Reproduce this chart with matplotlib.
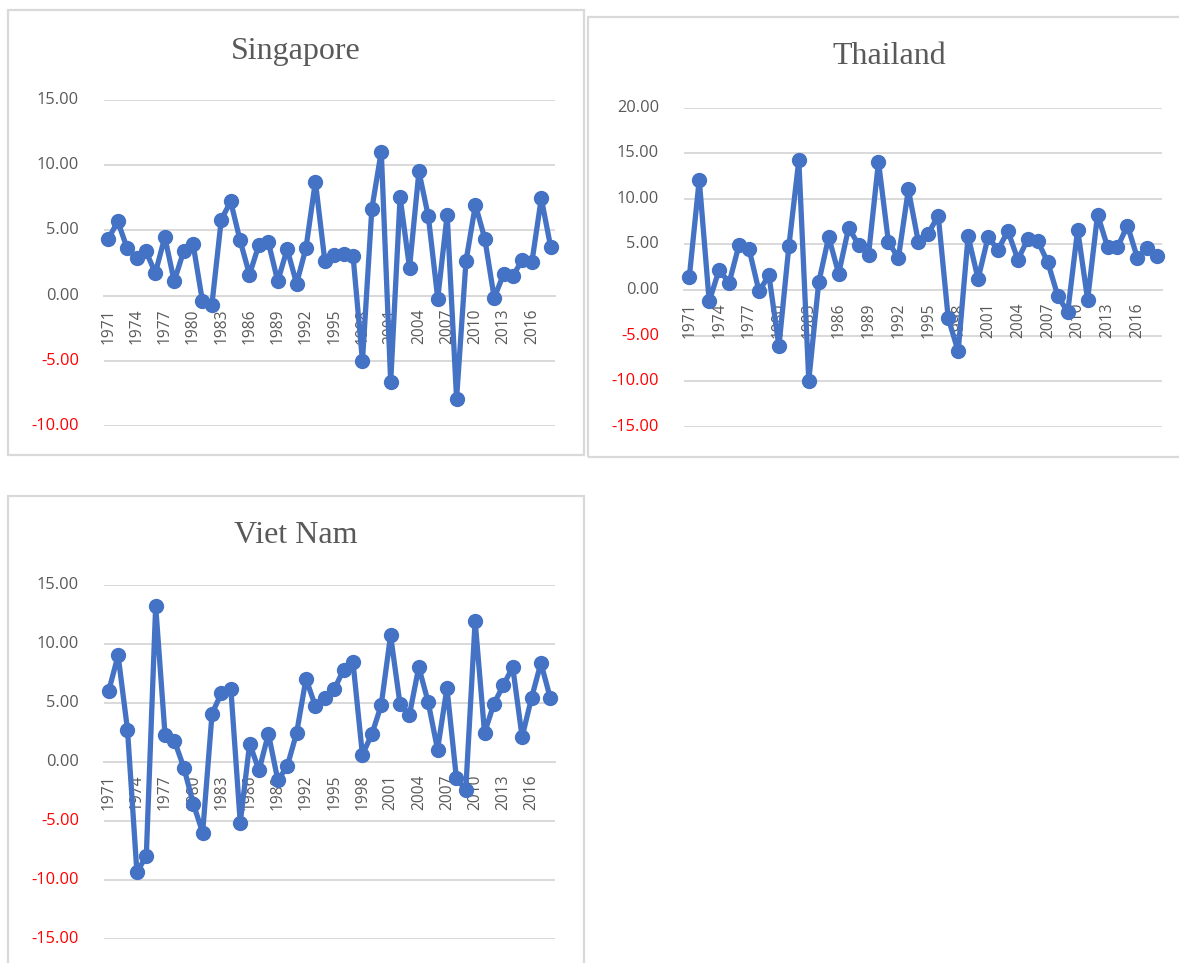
import matplotlib
matplotlib.use("Agg")
import matplotlib.pyplot as plt
from matplotlib.patches import Rectangle

years = list(range(1971, 2019))

singapore = [4.34, 5.69, 3.65, 2.88, 3.39, 1.73, 4.49, 1.10, 3.39, 3.98,
             -0.43, -0.74, 5.82, 7.22, 4.23, 1.61, 3.90, 4.11, 1.10, 3.57,
             0.92, 3.65, 8.75, 2.68, 3.14, 3.21, 3.06, -5.03, 6.66, 11.05,
             -6.63, 7.55, 2.12, 9.52, 6.07, -0.23, 6.20, -7.91, 2.63, 6.96,
             4.36, -0.18, 1.66, 1.53, 2.76, 2.55, 7.47, 3.72]

thailand = [1.39, 12.12, -1.25, 2.23, 0.77, 4.98, 4.51, -0.15, 1.61, -6.19,
            4.80, 14.25, -9.96, 0.84, 5.82, 1.79, 6.81, 4.98, 3.88, 14.07,
            5.24, 3.52, 11.03, 5.27, 6.19, 8.17, -3.08, -6.74, 5.90, 1.21,
            5.79, 4.43, 6.45, 3.33, 5.60, 5.35, 3.04, -0.62, -2.45, 6.63,
            -1.06, 8.28, 4.73, 4.69, 7.07, 3.52, 4.62, 3.77]

vietnam = [6.02, 9.04, 2.74, -9.32, -7.99, 13.22, 2.26, 1.78, -0.48, -3.53,
           -5.99, 4.10, 5.85, 6.21, -5.14, 1.55, -0.71, 2.40, -1.55, -0.37,
           2.46, 7.06, 4.72, 5.42, 6.16, 7.82, 8.47, 0.62, 2.34, 4.80,
           10.73, 4.94, 3.95, 8.05, 5.08, 1.05, 6.27, -1.33, -2.40, 11.95,
           2.46, 4.94, 6.50, 8.05, 2.12, 5.42, 8.39, 5.42]

titles = ["Singapore", "Thailand", "Viet Nam"]
series = [singapore, thailand, vietnam]
yticks_list = [[-10, -5, 0, 5, 10, 15],
               [-15, -10, -5, 0, 5, 10, 15, 20],
               [-15, -10, -5, 0, 5, 10, 15]]

W, H = 1179, 963
fig = plt.figure(figsize=(W / 100, H / 100), dpi=100)
fig.patch.set_facecolor("white")

# panel frames (pixels: x0, y0_top, x1, y1_bottom)
frames = [(8, 10, 584, 455), (588, 17, 1190, 457), (8, 496, 584, 975)]
# plot areas
plots = [(103.6, 100, 555.4, 426), (684.3, 107.7, 1162.3, 426.7), (104, 585, 555, 939)]
title_pos = [(296, 51), (889, 57), (296, 535)]
ylabel_x = [79, 659, 79]

def fx(x):
    return x / W

def fy(y):
    return 1 - y / H

for (x0, y0, x1, y1) in frames:
    fig.patches.append(Rectangle((fx(x0), fy(y1)), fx(x1 - x0), (y1 - y0) / H,
                                 transform=fig.transFigure, fill=False,
                                 edgecolor="#D9D9D9", linewidth=1.6, zorder=0))

line_color = "#4472C4"
gray = "#595959"
n = len(years)
xs = list(range(n))

for i in range(3):
    x0, y0, x1, y1 = plots[i]
    ax = fig.add_axes([fx(x0), fy(y1), fx(x1 - x0), (y1 - y0) / H])
    ax.set_facecolor("none")
    yt = yticks_list[i]
    ax.set_xlim(-0.5, n - 0.5)
    ax.set_ylim(yt[0], yt[-1])
    for v in yt:
        ax.axhline(v, color="#D9D9D9", linewidth=1.4, zorder=1)
    ax.plot(xs, series[i], color=line_color, linewidth=3.8, marker="o",
            markersize=10, markerfacecolor=line_color, markeredgecolor=line_color,
            zorder=3, clip_on=False, solid_joinstyle="round")
    for s in ["top", "right", "left"]:
        ax.spines[s].set_visible(False)
    ax.spines["bottom"].set_position(("data", 0))
    ax.spines["bottom"].set_color("#D9D9D9")
    ax.spines["bottom"].set_linewidth(1.4)
    ax.spines["bottom"].set_zorder(1)
    ax.set_xticks(xs[::3])
    ax.set_xticklabels([str(y) for y in years[::3]], rotation=90,
                       fontsize=11.2, color=gray, family="Open Sans")
    ax.tick_params(axis="x", length=0, pad=9)
    ax.set_yticks([])
    for v in yt:
        fig.text(fx(ylabel_x[i]), fy(y1 - (v - yt[0]) / (yt[-1] - yt[0]) * (y1 - y0)),
                 f"{v:.2f}", ha="right", va="center", fontsize=11.8,
                 family="Open Sans", color="#FF0000" if v < 0 else gray)
    tx, ty = title_pos[i]
    fig.text(fx(tx), fy(ty), titles[i], ha="center", va="center",
             fontsize=23, family="Liberation Serif", color=gray)

fig.savefig("out.png", dpi=100, facecolor="white")
